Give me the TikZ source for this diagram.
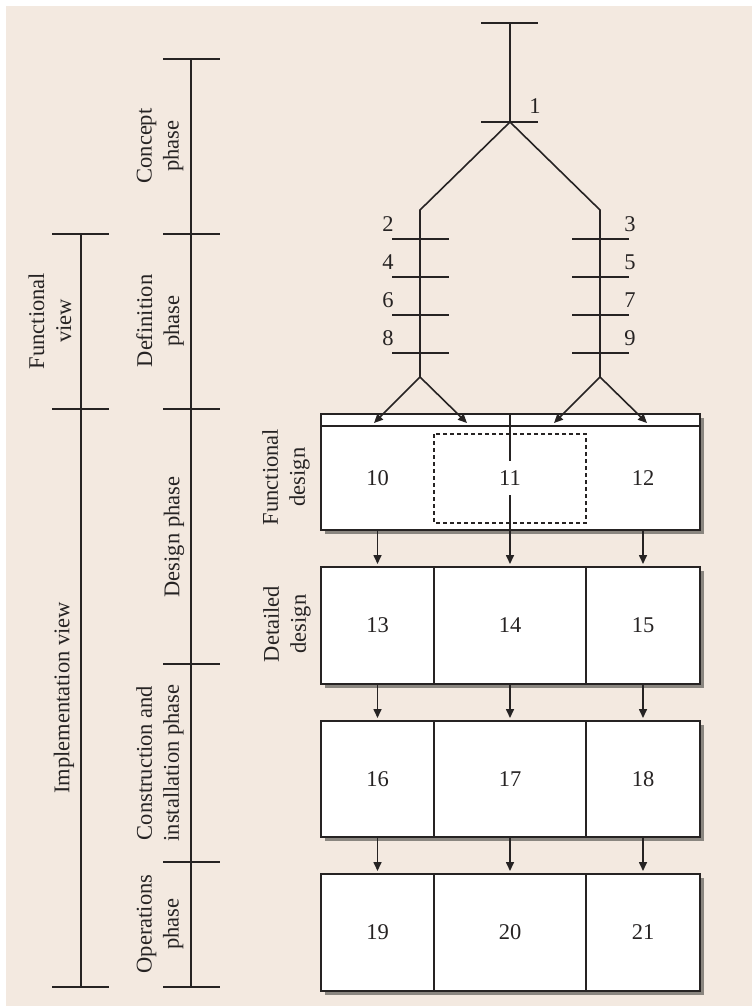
\documentclass[tikz,border=0pt]{standalone}
\usepackage{fontspec}
\setmainfont{Liberation Serif}
\usetikzlibrary{arrows.meta}
\definecolor{paper}{RGB}{243,233,224}
\definecolor{ink}{RGB}{38,35,35}
\definecolor{shadowgray}{RGB}{138,134,128}
\begin{document}
\begin{tikzpicture}[x=1pt,y=-1pt,line width=1.6pt,draw=ink,text=ink,
  font=\fontsize{22.5}{27}\selectfont,
  arr/.style={-{Triangle[length=9pt,width=8pt]}},
  lbl/.style={rotate=90,align=center,inner sep=0pt},
  num/.style={inner sep=0pt},
  cellbox/.style={rectangle,inner sep=0pt,outer sep=0pt,minimum height=#1},
  drawncell/.style={cellbox=#1,draw,fill=white},
  frame/.style={line width=2pt,fill=white},
  dropshadow/.style={fill=shadowgray},
  dashbox/.style={line width=1.4pt,dash pattern=on 4pt off 3pt}]

% page and background
\useasboundingbox (0,0) rectangle (752,1006);
\fill[white] (0,0) rectangle (752,1006);
\fill[paper] (6,6) rectangle (752,1006);

% ---------- left time lines ----------
% views
\draw (81,234) -- (81,987);
\foreach \y in {234,409,987} \draw (52,\y) -- (109,\y);
\node[lbl] (fview) at (50,321) {Functional\\view};
\node[lbl] (iview) at (64,698) {Implementation view};
% phases
\draw (191,59) -- (191,987);
\foreach \y in {59,234,409,664,862,987} \draw (163,\y) -- (220,\y);
\node[lbl] (pconcept) at (160,146) {Concept\\phase};
\node[lbl] (pdef) at (160,321) {Definition\\phase};
\node[lbl] (pdesign) at (174,537) {Design phase};
\node[lbl] (pcons) at (160,763) {Construction and\\installation phase};
\node[lbl] (pops) at (160,924) {Operations\\phase};
% design levels
\node[lbl] (lfd) at (286,477) {Functional\\design};
\node[lbl] (ldd) at (287,624) {Detailed\\design};

% ---------- decomposition tree ----------
\coordinate (ttop) at (510,23);
\coordinate (tsplit) at (510,122);
\coordinate (lknee) at (420,210);
\coordinate (rknee) at (600,210);
\coordinate (lend) at (420,377);
\coordinate (rend) at (600,377);
\draw (481,23) -- (538,23);
\draw (481,122) -- (538,122);
\draw (ttop) -- (tsplit);
\draw (tsplit) -- (lknee) -- (lend);
\draw (tsplit) -- (rknee) -- (rend);
\foreach \y in {239,277,315,353} {
  \draw (392,\y) -- (449,\y);
  \draw (572,\y) -- (629,\y);
}
\node[num] (n1) at (535,106) {1};
\node[num] (n2) at (388,224) {2};
\node[num] (n4) at (388,262) {4};
\node[num] (n6) at (388,300) {6};
\node[num] (n8) at (388,338) {8};
\node[num] (n3) at (630,224) {3};
\node[num] (n5) at (630,262) {5};
\node[num] (n7) at (630,300) {7};
\node[num] (n9) at (630,338) {9};

% ---------- row 1: functional design ----------
\fill[dropshadow] (324.5,417.5) rectangle (703.5,533.5);
\draw[frame] (321,414) rectangle (700,530);
\draw (321,426) -- (700,426);
\draw[dashbox] (434,434) rectangle (586,523);
\node[cellbox=104pt,minimum width=113pt] (c10) at (377.5,478) {10};
\node[cellbox=104pt,minimum width=152pt] (c11) at (510,478) {};
\node[cellbox=104pt,minimum width=114pt] (c12) at (643,478) {12};
\node[inner sep=9pt] (t11) at (510,478) {11};
\coordinate (s11) at (510,414);
\draw (s11) -- (t11.north);
\draw (t11.south) -- (c11.south);

% arrows from the tree into the strip
\coordinate (a10) at (374,423);
\coordinate (a11) at (467,423);
\coordinate (a11r) at (554,423);
\coordinate (a12) at (647,423);
\draw[arr] (lend) -- (a10);
\draw[arr] (lend) -- (a11);
\draw[arr] (rend) -- (a11r);
\draw[arr] (rend) -- (a12);

% ---------- row 2: detailed design ----------
\fill[dropshadow] (324.5,570.5) rectangle (703.5,687.5);
\node[drawncell=117pt,minimum width=113pt] (c13) at (377.5,625.5) {13};
\node[drawncell=117pt,minimum width=152pt] (c14) at (510,625.5) {14};
\node[drawncell=117pt,minimum width=114pt] (c15) at (643,625.5) {15};
\draw[line width=2pt] (321,567) rectangle (700,684);
% ---------- row 3: construction ----------
\fill[dropshadow] (324.5,724.5) rectangle (703.5,840.5);
\node[drawncell=116pt,minimum width=113pt] (c16) at (377.5,779) {16};
\node[drawncell=116pt,minimum width=152pt] (c17) at (510,779) {17};
\node[drawncell=116pt,minimum width=114pt] (c18) at (643,779) {18};
\draw[line width=2pt] (321,721) rectangle (700,837);
% ---------- row 4: operations ----------
\fill[dropshadow] (324.5,877.5) rectangle (703.5,994.5);
\node[drawncell=117pt,minimum width=113pt] (c19) at (377.5,932.5) {19};
\node[drawncell=117pt,minimum width=152pt] (c20) at (510,932.5) {20};
\node[drawncell=117pt,minimum width=114pt] (c21) at (643,932.5) {21};
\draw[line width=2pt] (321,874) rectangle (700,991);

% ---------- downward arrows ----------
\foreach \a/\b in {c10/c13,c11/c14,c12/c15,c13/c16,c14/c17,c15/c18,c16/c19,c17/c20,c18/c21}
  \draw[arr,shorten >=3pt] (\a.south) -- (\b.north);
\end{tikzpicture}
\end{document}
